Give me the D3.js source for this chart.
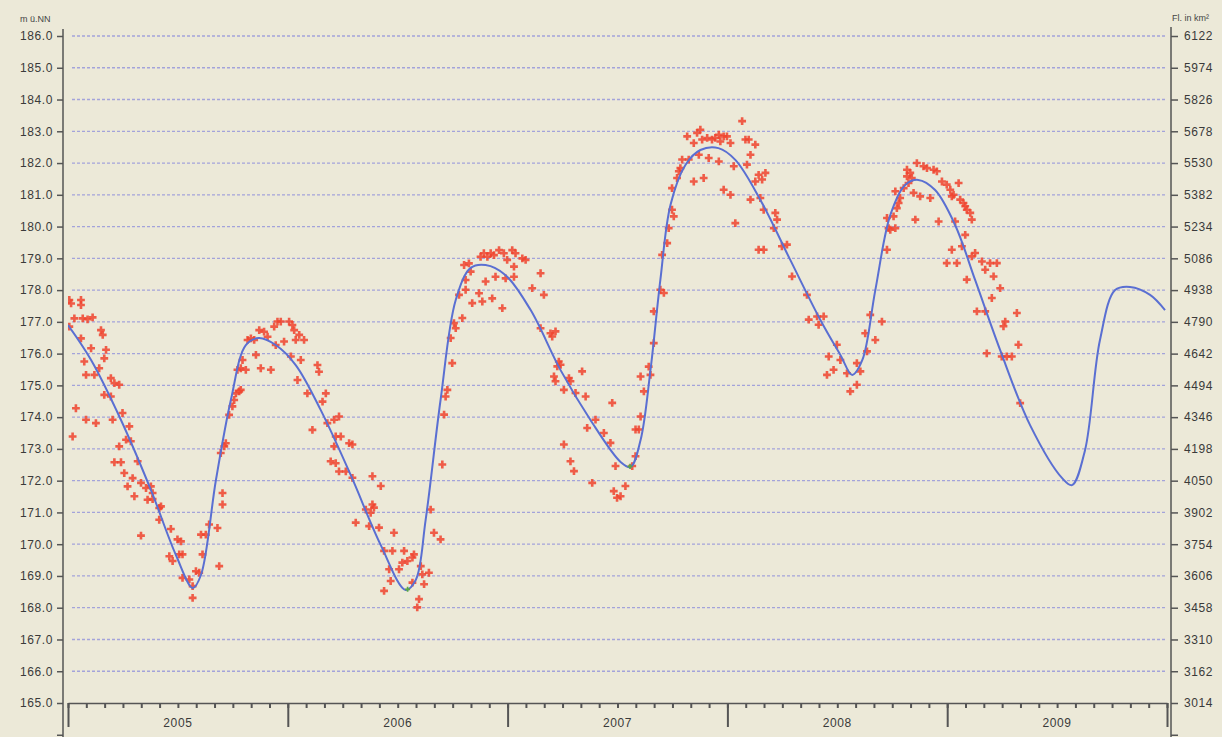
<!DOCTYPE html>
<html>
<head>
<meta charset="utf-8">
<script src="https://cdn.jsdelivr.net/npm/d3@7"></script>
<style>
  body { margin: 0; background: #ece9d8; }
  svg { display: block; }
  .tick text { font-family: "Liberation Sans", Arial, sans-serif; font-size: 12px; fill: #3a3a3a; letter-spacing: 0.6px; }
  .axis path, .axis line { stroke: #555; }
</style>
</head>
<body>
<script>
// level axis (m ü.NN) and area axis (km²)
var levelTicks = d3.range(165, 187);
var areaTicks = [3014, 3162, 3310, 3458, 3606, 3754, 3902, 4050, 4198, 4346, 4494,
  4642, 4790, 4938, 5086, 5234, 5382, 5530, 5678, 5826, 5974, 6122];
var years = [2005, 2006, 2007, 2008, 2009];

// fitted / forecast curve (decimal year, level)
var curveYears = [2005.0, 2005.105, 2005.241, 2005.377, 2005.491, 2005.568, 2005.605, 2005.673,
  2005.741, 2005.809, 2005.868, 2005.945, 2006.036, 2006.15, 2006.286, 2006.423, 2006.536,
  2006.582, 2006.627, 2006.695, 2006.764, 2006.832, 2006.9, 2006.991, 2007.105, 2007.241,
  2007.377, 2007.514, 2007.559, 2007.605, 2007.65, 2007.695, 2007.741, 2007.809, 2007.877,
  2007.959, 2008.036, 2008.15, 2008.286, 2008.423, 2008.514, 2008.568, 2008.614, 2008.673,
  2008.741, 2008.809, 2008.868, 2008.945, 2009.036, 2009.127, 2009.241, 2009.377, 2009.523,
  2009.568, 2009.627, 2009.695, 2009.764, 2009.832, 2009.923, 2009.991];
var curveLevels = [176.9, 175.8, 173.91, 171.71, 169.66, 168.62, 169.03, 172.02,
  174.54, 176.27, 176.49, 176.27, 175.64, 174.22, 172.18, 169.97, 168.56,
  168.87, 170.76, 174.54, 177.69, 178.7, 178.79, 178.47, 177.37, 175.48,
  173.91, 172.59, 172.43, 173.28, 175.48, 178.32, 180.68, 181.94, 182.41,
  182.47, 182.1, 180.84, 178.95, 177.06, 175.96, 175.33, 175.8, 178.0,
  180.36, 181.31, 181.47, 181.15, 180.05, 178.32, 176.11, 173.75, 172.08,
  171.86, 172.96, 176.43, 178.0, 178.1, 177.85, 177.37];

// measured levels (decimal year, level)
var observed = [
  [2005.006, 177.69], [2005.014, 177.58], [2005.059, 177.69], [2005.059, 177.53], [2005.029, 177.11],
  [2005.067, 177.11], [2005.089, 177.08], [2005.112, 177.14], [2005.006, 176.85], [2005.059, 176.48],
  [2005.105, 176.17], [2005.15, 176.74], [2005.158, 176.59], [2005.173, 176.12], [2005.165, 175.85],
  [2005.074, 175.75], [2005.082, 175.33], [2005.12, 175.33], [2005.142, 175.54], [2005.195, 175.23],
  [2005.211, 175.07], [2005.233, 175.02], [2005.165, 174.7], [2005.195, 174.65], [2005.036, 174.28],
  [2005.082, 173.92], [2005.127, 173.81], [2005.021, 173.39], [2005.203, 173.92], [2005.248, 174.13],
  [2005.279, 173.71], [2005.264, 173.29], [2005.286, 173.24], [2005.233, 173.08], [2005.211, 172.58],
  [2005.241, 172.58], [2005.317, 172.61], [2005.256, 172.24], [2005.294, 172.08], [2005.271, 171.82],
  [2005.302, 171.51], [2005.332, 171.93], [2005.355, 171.77], [2005.377, 171.82], [2005.385, 171.61],
  [2005.362, 171.4], [2005.385, 171.42], [2005.415, 171.14], [2005.423, 171.19], [2005.415, 170.77],
  [2005.332, 170.27], [2005.468, 170.48], [2005.498, 170.15], [2005.514, 170.09], [2005.461, 169.62],
  [2005.476, 169.47], [2005.506, 169.68], [2005.521, 169.68], [2005.521, 168.94], [2005.552, 168.89],
  [2005.567, 168.68], [2005.567, 168.31], [2005.582, 169.15], [2005.597, 169.1], [2005.612, 169.68],
  [2005.605, 170.3], [2005.627, 170.3], [2005.642, 170.62], [2005.68, 170.51], [2005.688, 169.31],
  [2005.703, 171.61], [2005.703, 171.25], [2005.695, 172.87], [2005.711, 173.08], [2005.718, 173.18],
  [2005.733, 174.07], [2005.748, 174.34], [2005.756, 174.54], [2005.764, 174.75], [2005.779, 174.81],
  [2005.786, 174.86], [2005.771, 175.49], [2005.786, 175.54], [2005.809, 175.49], [2005.794, 175.8],
  [2005.817, 176.43], [2005.832, 176.48], [2005.847, 176.43], [2005.855, 175.96], [2005.87, 176.74],
  [2005.877, 175.54], [2005.892, 176.69], [2005.908, 176.53], [2005.923, 175.49], [2005.938, 176.85],
  [2005.945, 176.27], [2005.953, 177.01], [2005.968, 177.01], [2005.983, 176.38], [2006.006, 177.01],
  [2006.021, 176.9], [2006.029, 176.74], [2006.036, 176.43], [2006.052, 176.59], [2006.074, 176.43],
  [2006.014, 175.91], [2006.059, 175.8], [2006.044, 175.17], [2006.089, 174.75], [2006.135, 175.64],
  [2006.142, 175.43], [2006.173, 174.75], [2006.158, 174.49], [2006.112, 173.6], [2006.18, 173.81],
  [2006.211, 173.92], [2006.233, 174.02], [2006.218, 173.39], [2006.211, 173.08], [2006.241, 173.39],
  [2006.195, 172.61], [2006.218, 172.55], [2006.233, 172.29], [2006.264, 172.29], [2006.279, 173.18],
  [2006.294, 173.14], [2006.294, 172.09], [2006.309, 170.68], [2006.355, 171.09], [2006.37, 170.57],
  [2006.385, 171.25], [2006.392, 171.15], [2006.377, 170.99], [2006.385, 172.14], [2006.423, 171.83],
  [2006.415, 170.52], [2006.483, 170.36], [2006.438, 169.79], [2006.476, 169.79], [2006.529, 169.79],
  [2006.461, 169.21], [2006.506, 169.21], [2006.521, 169.42], [2006.544, 169.47], [2006.567, 169.58],
  [2006.574, 169.68], [2006.468, 168.84], [2006.438, 168.53], [2006.567, 168.79], [2006.605, 169.31],
  [2006.612, 169.05], [2006.642, 169.1], [2006.62, 168.74], [2006.597, 168.27], [2006.589, 168.01],
  [2006.65, 171.09], [2006.665, 170.36], [2006.695, 170.15], [2006.703, 172.51], [2006.711, 174.08],
  [2006.718, 174.65], [2006.726, 174.86], [2006.748, 175.7], [2006.741, 176.49], [2006.764, 176.8],
  [2006.756, 176.96], [2006.794, 177.12], [2006.779, 177.85], [2006.809, 178.01], [2006.809, 178.32],
  [2006.802, 178.79], [2006.824, 178.84], [2006.832, 178.58], [2006.839, 177.59], [2006.87, 177.9],
  [2006.885, 177.64], [2006.9, 178.27], [2006.93, 177.74], [2006.945, 178.42], [2006.976, 177.43],
  [2006.991, 178.37], [2006.877, 179.05], [2006.892, 179.16], [2006.908, 179.05], [2006.923, 179.16],
  [2006.938, 179.1], [2006.961, 179.26], [2006.983, 179.16], [2006.998, 178.95], [2007.021, 179.26],
  [2007.036, 179.16], [2007.029, 178.74], [2007.067, 179.0], [2007.082, 178.95], [2007.029, 178.42],
  [2007.112, 178.06], [2007.15, 178.53], [2007.165, 177.85], [2007.15, 176.8], [2007.195, 176.64],
  [2007.218, 176.7], [2007.203, 176.54], [2007.233, 175.75], [2007.241, 175.65], [2007.226, 175.6],
  [2007.211, 175.28], [2007.218, 175.13], [2007.256, 174.86], [2007.279, 175.23], [2007.286, 175.13],
  [2007.309, 174.76], [2007.339, 175.44], [2007.355, 174.65], [2007.4, 173.92], [2007.362, 173.66],
  [2007.438, 173.5], [2007.468, 173.19], [2007.476, 174.45], [2007.256, 173.14], [2007.286, 172.61],
  [2007.302, 172.3], [2007.385, 171.93], [2007.491, 172.46], [2007.483, 171.67], [2007.498, 171.46],
  [2007.514, 171.51], [2007.536, 171.83], [2007.567, 172.46], [2007.582, 173.61], [2007.597, 173.61],
  [2007.582, 172.77], [2007.605, 175.28], [2007.62, 174.81], [2007.605, 174.02], [2007.642, 175.59],
  [2007.65, 175.33], [2007.665, 176.33], [2007.665, 177.33], [2007.695, 178.01], [2007.711, 177.91],
  [2007.703, 179.11], [2007.726, 179.48], [2007.733, 179.95], [2007.748, 180.53], [2007.756, 180.32],
  [2007.748, 181.21], [2007.771, 181.53], [2007.779, 181.74], [2007.786, 181.84], [2007.794, 182.11],
  [2007.824, 182.11], [2007.817, 182.84], [2007.847, 182.63], [2007.862, 182.95], [2007.877, 183.05],
  [2007.885, 182.74], [2007.908, 182.79], [2007.93, 182.74], [2007.945, 182.79], [2007.961, 182.89],
  [2007.968, 182.68], [2007.983, 182.84], [2007.998, 182.84], [2008.014, 182.63], [2007.915, 182.16],
  [2007.961, 182.05], [2007.87, 182.26], [2007.847, 181.42], [2007.892, 181.53], [2007.983, 181.16],
  [2008.014, 181.0], [2008.036, 180.11], [2008.029, 181.9], [2008.067, 183.32], [2008.082, 182.74],
  [2008.097, 182.74], [2008.127, 182.58], [2008.105, 182.26], [2008.089, 181.95], [2008.127, 181.42],
  [2008.142, 181.63], [2008.173, 181.69], [2008.158, 181.48], [2008.105, 180.85], [2008.15, 180.9],
  [2008.165, 180.53], [2008.218, 180.43], [2008.226, 180.22], [2008.211, 179.95], [2008.142, 179.27],
  [2008.165, 179.27], [2008.248, 179.38], [2008.271, 179.43], [2008.294, 178.43], [2008.362, 177.85],
  [2008.37, 177.07], [2008.408, 177.17], [2008.415, 176.91], [2008.438, 177.17], [2008.498, 176.28],
  [2008.461, 175.91], [2008.483, 175.49], [2008.453, 175.33], [2008.514, 175.8], [2008.544, 175.38],
  [2008.559, 174.81], [2008.589, 175.02], [2008.589, 175.7], [2008.605, 175.44], [2008.635, 176.07],
  [2008.627, 176.64], [2008.65, 177.22], [2008.673, 176.43], [2008.703, 177.01], [2008.726, 179.27],
  [2008.726, 180.27], [2008.733, 179.95], [2008.741, 179.9], [2008.764, 179.95], [2008.756, 180.32],
  [2008.771, 180.58], [2008.779, 180.74], [2008.764, 181.11], [2008.786, 180.9], [2008.802, 181.21],
  [2008.817, 181.58], [2008.817, 181.79], [2008.832, 181.69], [2008.824, 181.37], [2008.839, 181.53],
  [2008.847, 181.06], [2008.855, 180.22], [2008.862, 182.0], [2008.877, 180.95], [2008.892, 181.9],
  [2008.908, 181.84], [2008.923, 180.9], [2008.938, 181.79], [2008.953, 181.74], [2008.961, 180.16],
  [2008.976, 181.42], [2008.998, 181.32], [2009.014, 181.16], [2009.021, 180.95], [2009.029, 181.0],
  [2009.036, 180.16], [2009.052, 181.37], [2009.059, 180.85], [2009.074, 180.74], [2009.082, 180.64],
  [2009.089, 180.53], [2009.105, 180.43], [2009.112, 180.22], [2009.082, 179.74], [2009.021, 179.27],
  [2009.067, 179.38], [2008.998, 178.85], [2009.044, 178.85], [2009.112, 179.06], [2009.127, 179.17],
  [2009.158, 178.9], [2009.173, 178.64], [2009.195, 178.85], [2009.226, 178.85], [2009.211, 178.43],
  [2009.203, 177.75], [2009.241, 178.06], [2009.089, 178.33], [2009.135, 177.33], [2009.173, 177.33],
  [2009.264, 177.01], [2009.256, 176.86], [2009.317, 177.28], [2009.324, 176.28], [2009.18, 176.01],
  [2009.248, 175.91], [2009.271, 175.91], [2009.294, 175.91], [2009.332, 174.44]
];

// small green marks at the curve minima
var minimaMarks = [[2006.545, 168.58], [2007.557, 172.45]];

var W = 1222, H = 737;
var plot = { left: 68, right: 1167, top: 36, bottom: 703 };

var x = d3.scaleLinear().domain([2005, 2010]).range([plot.left, plot.right]);
var y = d3.scaleLinear().domain([165, 186]).range([plot.bottom, plot.top]);
var y2 = d3.scaleLinear().domain([3014, 6122]).range([plot.bottom, plot.top]);

var svg = d3.select("body").append("svg")
  .attr("width", W)
  .attr("height", H);

svg.append("rect").attr("width", W).attr("height", H).attr("fill", "#ece9d8");

// horizontal grid
svg.append("g")
  .selectAll("line")
  .data(levelTicks.slice(1))
  .join("line")
  .attr("x1", plot.left + 4)
  .attr("x2", plot.right - 2)
  .attr("y1", function (d) { return y(d); })
  .attr("y2", function (d) { return y(d); })
  .attr("stroke", "#a3a3da")
  .attr("stroke-width", 1.3)
  .attr("stroke-dasharray", "3,2");

// left axis
var axisLeft = d3.axisLeft(y)
  .tickValues(levelTicks.concat([164]))
  .tickFormat(function (d) { return d < 165 ? "" : d3.format(".1f")(d); })
  .tickSize(6)
  .tickPadding(4);
var gl = svg.append("g").attr("class", "axis")
  .attr("transform", "translate(63,0)")
  .call(axisLeft);
gl.select(".domain").remove();
gl.selectAll(".tick line").attr("stroke-width", 1.5);
gl.append("line").attr("y1", 29).attr("y2", H).attr("stroke", "#555").attr("stroke-width", 1.5);

// right axis
var axisRight = d3.axisRight(y2)
  .tickValues(areaTicks.concat([2866]))
  .tickFormat(function (d) { return d < 3014 ? "" : d; })
  .tickSize(7)
  .tickPadding(6);
var gr = svg.append("g").attr("class", "axis")
  .attr("transform", "translate(1171,0)")
  .call(axisRight);
gr.select(".domain").remove();
gr.selectAll(".tick line").attr("stroke-width", 1.5);
gr.append("line").attr("y1", 27).attr("y2", H).attr("stroke", "#555").attr("stroke-width", 1.5);

// axis titles
svg.append("text").attr("x", 20).attr("y", 22)
  .style("font-family", "Liberation Sans, Arial, sans-serif").style("font-size", "9px")
  .attr("fill", "#444").text("m ü.NN");
svg.append("text").attr("x", 1172).attr("y", 21)
  .style("font-family", "Liberation Sans, Arial, sans-serif").style("font-size", "9px")
  .attr("fill", "#444").text("Fl. in km²");

// bottom axis: months (minor) and years (major)
var months = d3.range(0, 61).map(function (i) { return 2005 + i / 12; });
var gMinor = svg.append("g").attr("class", "axis")
  .attr("transform", "translate(0," + plot.bottom + ")")
  .call(d3.axisBottom(x).tickValues(months).tickSize(5).tickSizeOuter(0).tickFormat(""));
gMinor.selectAll(".tick line").attr("stroke-width", 2);
gMinor.select(".domain").attr("stroke-width", 1.5);

var gMajor = svg.append("g").attr("class", "axis")
  .attr("transform", "translate(0," + plot.bottom + ")")
  .call(d3.axisBottom(x).tickValues(years.concat([2010])).tickSize(24).tickSizeOuter(0).tickFormat(""));
gMajor.select(".domain").remove();
gMajor.selectAll(".tick line").attr("stroke-width", 2);

svg.append("g")
  .selectAll("text")
  .data(years)
  .join("text")
  .attr("x", function (d) { return x(d + 0.5); })
  .attr("y", 727)
  .attr("text-anchor", "middle")
  .style("font-family", "Liberation Sans, Arial, sans-serif")
  .style("font-size", "12px")
  .style("letter-spacing", "0.6px")
  .attr("fill", "#3a3a3a")
  .text(function (d) { return d; });

// clip to plot
svg.append("clipPath").attr("id", "plotclip")
  .append("rect")
  .attr("x", plot.left).attr("y", 0)
  .attr("width", plot.right - plot.left).attr("height", plot.bottom);

var gPlot = svg.append("g").attr("clip-path", "url(#plotclip)");

// measured points: red plus signs
gPlot.append("g")
  .selectAll("path")
  .data(observed)
  .join("path")
  .attr("transform", function (d) { return "translate(" + x(d[0]) + "," + y(d[1]) + ")"; })
  .attr("d", d3.symbol(d3.symbolCross, 34))
  .attr("fill", "#f0432e")
  .attr("opacity", 0.85);

// fitted curve
var line = d3.line()
  .x(function (d, i) { return x(d); })
  .y(function (d, i) { return y(curveLevels[i]); })
  .curve(d3.curveCatmullRom.alpha(0.5));

gPlot.append("path")
  .datum(curveYears)
  .attr("d", line)
  .attr("fill", "none")
  .attr("stroke", "#5a6fd2")
  .attr("stroke-width", 2);

gPlot.append("g")
  .selectAll("path")
  .data(minimaMarks)
  .join("path")
  .attr("transform", function (d) { return "translate(" + x(d[0]) + "," + y(d[1]) + ")"; })
  .attr("d", d3.symbol(d3.symbolCross, 14))
  .attr("fill", "#5aa845");
</script>
</body>
</html>
